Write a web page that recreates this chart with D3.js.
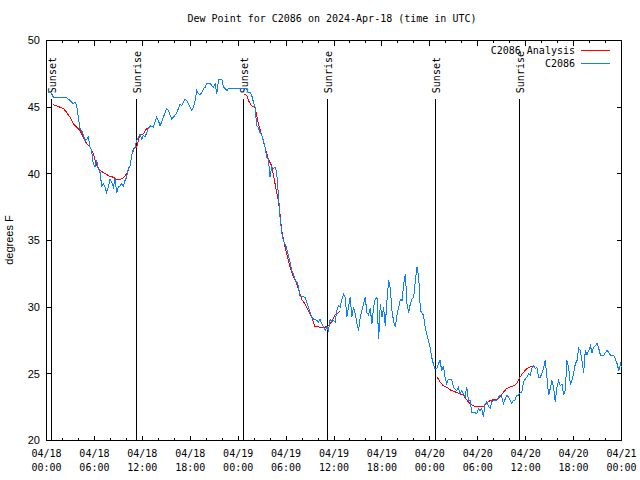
<!DOCTYPE html>
<html><head><meta charset="utf-8">
<script src="https://cdn.jsdelivr.net/npm/d3@7"></script>
<style>html,body{margin:0;padding:0;background:#fff;}svg{display:block;}</style>
</head><body>
<script>
// ---- data ----
const titleText = "Dew Point for C2086 on 2024-Apr-18 (time in UTC)";
const yLabel = "degrees F";
const seriesNames = ["C2086 Analysis", "C2086"];
const startTime = "2024-04-18T00:00:00Z";
const spanHours = 72;
const yDomain = [20, 50];
const yTicks = [20, 25, 30, 35, 40, 45, 50];
const eventNames = ["Sunset", "Sunrise", "Sunset", "Sunrise", "Sunset", "Sunrise"];
const eventHours = [0.6, 11.24, 24.63, 35.14, 48.66, 59.17];
const eventTopValue = 45.6;

// observations (hours since start, degrees F)
const obsHours = [0.23,0.44,0.65,0.86,1.27,1.69,2.11,2.53,2.94,3.36,3.57,3.78,3.99,4.19,4.40,4.61,4.82,5.03,5.24,5.45,5.65,5.86,6.07,6.28,6.49,6.70,6.91,7.12,7.32,7.53,7.74,7.95,8.16,8.37,8.58,8.79,9.00,9.20,9.41,9.62,9.83,10.04,10.25,10.46,10.67,10.88,11.08,11.29,11.50,11.71,11.92,12.13,12.34,12.55,12.75,12.96,13.38,13.59,13.80,14.01,14.22,14.43,14.64,14.85,15.06,15.27,15.48,15.68,15.89,16.10,16.31,16.52,16.73,16.94,17.15,17.36,17.57,17.78,17.99,18.20,18.40,18.61,18.82,19.03,19.24,19.45,19.66,19.87,20.08,20.29,20.50,20.71,20.91,21.12,21.33,21.54,21.75,21.96,22.17,22.38,22.59,22.80,23.0,24.2,25.06,25.27,25.48,25.69,25.90,26.11,26.32,26.52,26.73,26.94,27.15,27.36,27.57,27.78,27.99,28.20,28.41,28.62,28.82,29.03,29.24,29.45,29.66,29.87,30.08,30.29,30.50,30.71,30.91,31.12,31.33,31.54,31.75,31.96,32.38,32.59,32.80,33.01,33.22,33.43,33.64,33.85,34.05,34.26,34.47,34.68,34.89,35.10,35.31,35.52,35.73,35.94,36.15,36.36,36.57,36.78,36.99,37.20,37.40,37.61,37.82,38.03,38.24,38.45,38.66,38.87,39.08,39.29,39.50,39.70,39.91,40.12,40.33,40.54,40.75,40.96,41.17,41.38,41.59,41.80,42.00,42.21,42.42,42.63,42.84,43.05,43.26,43.47,43.68,43.89,44.10,44.31,44.52,44.73,44.93,45.14,45.35,45.56,45.77,45.98,46.19,46.40,46.61,46.82,47.19,47.40,47.60,47.81,48.02,48.23,48.44,48.65,48.86,49.07,49.28,49.48,49.69,49.90,50.11,50.32,50.74,50.95,51.37,51.57,51.78,51.99,52.41,52.62,52.83,53.04,53.25,53.66,53.87,54.08,54.29,54.50,54.71,54.92,55.13,55.34,55.55,55.76,55.97,56.38,56.59,56.80,57.01,57.22,57.43,57.64,57.85,58.06,58.26,58.47,58.68,58.89,59.10,59.31,59.52,59.73,59.94,60.15,60.36,60.57,60.78,60.99,61.20,61.41,61.61,61.82,62.03,62.24,62.45,62.66,62.87,63.08,63.29,63.49,63.70,63.91,64.12,64.33,64.54,64.75,64.96,65.17,65.38,65.59,65.80,66.01,66.22,66.43,66.64,66.84,67.05,67.26,67.47,67.68,67.89,68.10,68.31,68.52,68.73,68.94,69.15,69.36,69.77,69.98,70.19,70.40,70.61,71.03,71.24,71.45,71.66,71.87,72.0];
const obsValues = [46.1,46.2,46.0,45.75,45.7,45.75,45.7,45.7,45.5,45.25,45.4,45.1,44.25,43.4,43.25,42.9,42.5,42.6,42.75,42.0,41.75,40.75,40.5,41.0,40.4,40.1,39.1,39.25,39.0,38.6,39.0,39.6,39.4,39.0,39.6,38.6,39.0,39.1,39.25,39.1,39.5,39.75,40.4,40.6,41.4,41.75,42.0,42.5,42.75,43.0,42.6,42.9,42.75,43.1,43.4,43.6,43.5,43.9,44.25,44.0,43.6,43.9,44.25,44.6,44.9,44.75,44.4,44.1,44.25,44.4,44.6,44.9,45.25,45.1,45.4,45.6,45.5,45.25,45.0,44.75,45.0,45.5,46.25,46.0,45.95,46.1,46.4,46.5,46.8,46.75,46.8,46.6,46.5,46.75,46.0,47.05,47.1,47.05,46.5,46.4,46.25,46.4,46.4,46.4,46.4,46.1,46.1,45.9,45.4,45.0,43.6,43.5,43.1,42.9,42.5,42.0,41.25,41.1,39.75,40.5,40.4,40.5,40.1,38.5,36.75,35.6,35.0,34.75,34.4,33.9,33.4,32.75,32.5,32.1,31.9,31.6,30.8,30.8,30.75,30.4,30.0,29.6,29.25,29.1,29.1,29.0,28.9,29.1,28.75,28.5,28.25,28.5,28.25,29.1,28.9,29.0,28.9,29.75,30.1,30.0,30.6,31.0,30.75,29.25,30.0,30.75,29.25,30.0,29.5,28.75,28.25,29.25,29.75,30.25,30.75,29.6,29.4,29.9,28.75,30.0,30.6,30.75,27.6,30.25,29.25,30.0,28.6,30.5,32.0,31.4,29.75,28.9,28.5,29.4,30.0,30.6,30.5,31.75,32.5,30.25,29.6,30.25,30.6,30.75,32.0,33.0,32.25,29.75,29.4,28.6,28.0,27.5,27.0,26.25,25.75,25.4,25.4,25.75,26.0,25.25,25.6,24.75,24.25,24.6,24.6,24.0,23.75,24.0,23.5,23.75,23.25,24.0,23.0,23.0,22.1,22.1,22.0,22.4,22.25,22.4,21.8,22.75,22.9,22.6,22.4,22.9,23.0,23.0,23.25,23.4,23.25,22.75,23.1,23.4,23.25,23.0,22.75,23.0,23.05,23.4,23.4,23.6,23.6,24.4,24.6,24.75,25.0,24.9,25.4,25.6,25.4,25.5,24.75,24.75,25.0,25.4,26.0,24.75,23.4,23.9,24.5,24.0,22.9,24.0,24.5,24.1,24.25,23.4,23.75,26.0,25.5,24.25,24.5,25.1,25.75,26.0,26.9,26.75,26.0,25.1,26.75,26.4,26.75,27.1,26.6,27.0,27.1,27.3,26.9,26.4,26.4,26.6,26.75,26.6,26.4,26.4,26.1,25.75,25.25,25.75,25.5];

// analysis segments (hours since start, degrees F)
const anaHours1 = [0.77,1.27,1.69,2.11,2.53,2.94,3.36,3.78,4.19,4.61,5.03,5.45,5.86,6.28,6.70,7.12,7.53,7.95,8.37,8.79,9.20,9.62,10.04,10.46,10.67,10.88,11.29,11.50,11.71,12.13,12.55,12.75];
const anaValues1 = [45.2,45.1,45.0,44.9,44.6,44.25,43.75,43.5,43.25,42.75,42.25,42.0,41.5,40.6,40.25,40.1,39.95,39.8,39.75,39.55,39.55,39.7,40.0,40.6,41.4,41.9,42.0,42.5,42.9,43.0,43.4,43.45];
const anaHours2 = [24.73,25.07,25.28,25.69,26.11,26.32,26.53,26.95,27.36,27.78,28.20,28.62,29.03,29.24,29.45,29.87,30.28,30.70,31.33,31.95,32.37,32.79,33.21,33.62,34.25,34.88,35.29,35.71,36.13,36.75];
const anaValues2 = [46.0,45.9,45.5,45.1,45.0,44.4,43.75,42.9,42.0,41.1,40.6,39.25,38.0,37.0,35.75,34.5,33.5,32.6,31.75,30.6,30.25,29.75,29.25,28.55,28.5,28.5,28.6,28.9,29.4,29.7];
const anaHours3 = [48.86,49.27,49.69,50.11,50.53,50.94,51.36,51.78,52.20,52.61,53.03,53.45,53.87,54.70,55.12,55.54,55.95,56.37,56.79,57.20,57.62,58.04,58.46,58.87,59.29,59.71,60.13,60.54,60.96];
const anaValues3 = [24.8,24.4,24.1,24.0,23.8,23.7,23.6,23.5,23.4,23.05,22.75,22.6,22.55,22.55,22.8,23.0,23.05,23.1,23.25,23.6,23.9,24.0,24.1,24.25,24.75,25.1,25.4,25.5,25.6];

const colors = {analysis: "#ff0000", obs: "#0a80ff"};
const mono = "'DejaVu Sans Mono', 'Liberation Mono', monospace";
const sans = "'Liberation Sans', Arial, sans-serif";

// ---- chart ----
const W = 640, H = 480;
const L = 46.5, R = 621.5, T = 40.5, B = 440.5;
const t0 = new Date(startTime);
const hourToDate = h => new Date(t0.getTime() + h * 3600e3);
const x = d3.scaleUtc().domain([t0, hourToDate(spanHours)]).range([L, R]);
const y = d3.scaleLinear().domain(yDomain).range([B, T]);

const svg = d3.select("body").append("svg").attr("width", W).attr("height", H);

// title
svg.append("text").attr("x", 332).attr("y", 22).attr("text-anchor", "middle")
  .style("font-family", mono).style("font-size", "10px").text(titleText);

// y label
svg.append("text").attr("transform", `translate(13,240) rotate(-90)`).attr("text-anchor", "middle")
  .style("font-family", sans).style("font-size", "11px").text(yLabel);

// ticks
const g = svg.append("g").attr("shape-rendering", "crispEdges");
const majorTicks = x.ticks(d3.utcHour.every(6));
const minorTicks = x.ticks(d3.utcHour.every(2)).filter(d => d.getUTCHours() % 6 !== 0);
const tickStroke = "#000";
majorTicks.forEach(d => {
  const px = Math.round(x(d) - 0.5) + 0.5;
  g.append("line").attr("x1", px).attr("x2", px).attr("y1", B).attr("y2", B - 5).attr("stroke", tickStroke);
  g.append("line").attr("x1", px).attr("x2", px).attr("y1", T).attr("y2", T + 5).attr("stroke", tickStroke);
  const lab = svg.append("text").attr("x", x(d)).attr("text-anchor", "middle")
    .style("font-family", mono).style("font-size", "10px");
  lab.append("tspan").attr("x", x(d)).attr("y", 456.5).text(d3.utcFormat("%m/%d")(d));
  lab.append("tspan").attr("x", x(d)).attr("y", 471).text(d3.utcFormat("%H:%M")(d));
});
minorTicks.forEach(d => {
  const px = Math.round(x(d) - 0.5) + 0.5;
  g.append("line").attr("x1", px).attr("x2", px).attr("y1", B).attr("y2", B - 2.5).attr("stroke", tickStroke);
  g.append("line").attr("x1", px).attr("x2", px).attr("y1", T).attr("y2", T + 2.5).attr("stroke", tickStroke);
});
yTicks.forEach(v => {
  const py = Math.round(y(v) - 0.5) + 0.5;
  g.append("line").attr("x1", L).attr("x2", L + 5).attr("y1", py).attr("y2", py).attr("stroke", tickStroke);
  g.append("line").attr("x1", R).attr("x2", R - 5).attr("y1", py).attr("y2", py).attr("stroke", tickStroke);
  svg.append("text").attr("x", 40).attr("y", y(v)).attr("dy", "0.36em").attr("text-anchor", "end")
    .style("font-family", sans).style("font-size", "11px").text(v);
});

// sunrise / sunset markers
eventHours.forEach((h, i) => {
  const px = Math.round(x(hourToDate(h)) - 0.5) + 0.5;
  g.append("line").attr("x1", px).attr("x2", px).attr("y1", y(eventTopValue)).attr("y2", B)
    .attr("stroke", "#000");
  svg.append("text").attr("transform", `translate(${px + 1},${y(eventTopValue) - 6}) rotate(-90)`)
    .attr("text-anchor", "start").attr("dy", "0.36em")
    .style("font-family", mono).style("font-size", "10px").text(eventNames[i]);
});

// series
const line = d3.line().x(d => x(hourToDate(d[0]))).y(d => y(d[1]));
const segs = [[anaHours1, anaValues1], [anaHours2, anaValues2], [anaHours3, anaValues3]];
segs.forEach(([hs, vs]) => {
  svg.append("path").datum(hs.map((h, i) => [h, vs[i]])).attr("d", line)
    .attr("fill", "none").attr("stroke", colors.analysis).attr("stroke-width", 1)
    .attr("shape-rendering", "crispEdges");
});
svg.append("path").datum(obsHours.map((h, i) => [h, obsValues[i]])).attr("d", line)
  .attr("fill", "none").attr("stroke", colors.obs).attr("stroke-width", 1)
  .attr("shape-rendering", "crispEdges");

// frame
g.append("rect").attr("x", L).attr("y", T).attr("width", R - L).attr("height", B - T)
  .attr("fill", "none").attr("stroke", "#000");

// legend
const legY = [50, 63];
const legC = [colors.analysis, colors.obs];
seriesNames.forEach((n, i) => {
  svg.append("text").attr("x", 575).attr("y", legY[i]).attr("dy", "0.36em").attr("text-anchor", "end")
    .style("font-family", mono).style("font-size", "10px").text(n);
  g.append("line").attr("x1", 581).attr("x2", 610).attr("y1", legY[i] + 0.5).attr("y2", legY[i] + 0.5)
    .attr("stroke", legC[i]);
});
</script>
</body></html>
